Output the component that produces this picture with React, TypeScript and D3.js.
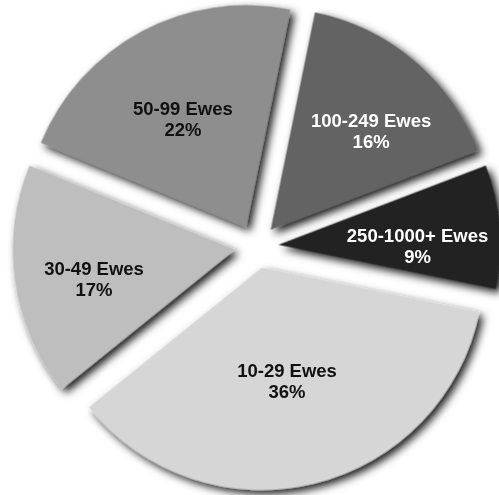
import React from "react";
import * as d3 from "d3";

const categories = ["10-29 Ewes", "30-49 Ewes", "50-99 Ewes", "100-249 Ewes", "250-1000+ Ewes"];
const values = [36, 17, 22, 16, 9];
const colors = ["#d6d6d6", "#bebebe", "#8e8e8e", "#636363", "#232323"];
const textColors = ["#111", "#111", "#111", "#fff", "#fff"];
// label placement (layout): distance from slice tip and angular shift in degrees
const labelRadius = [122.7, 145.3, 119.3, 136.6, 139.3];
const labelShift = [1.8, -6.1, -3.9, 7.0, 7.7];

const W = 499;
const H = 495;
const CX = 256.5;
const CY = 246.5;
const R = 222;
const EXPLODE = 22;
const START = (101.5 * Math.PI) / 180;
const LINE_GAP = 21;

export default function App() {
  const pie = d3
    .pie<number>()
    .sort(null)
    .value((d) => d)
    .startAngle(START)
    .endAngle(START + 2 * Math.PI);
  const arcs = pie(values);
  const arcGen = d3.arc<d3.PieArcDatum<number>>().innerRadius(0).outerRadius(R);

  return (
    <svg
      width={W}
      height={H}
      style={{ position: "absolute", left: 0, top: 0, background: "#fff" }}
    >
      <defs>
        <filter id="shadow" x="-20%" y="-20%" width="140%" height="140%">
          <feDropShadow dx="4" dy="4" stdDeviation="4" floodColor="#000" floodOpacity="0.9" />
        </filter>
      </defs>
      <g transform={`translate(${CX},${CY})`}>
        <g filter="url(#shadow)">
          {arcs.map((a, i) => {
            const mid = (a.startAngle + a.endAngle) / 2;
            const ox = EXPLODE * Math.sin(mid);
            const oy = -EXPLODE * Math.cos(mid);
            return (
              <path
                key={i}
                d={arcGen(a) || ""}
                transform={`translate(${ox},${oy})`}
                fill={colors[i]}
              />
            );
          })}
        </g>
        {arcs.map((a, i) => {
          const mid = (a.startAngle + a.endAngle) / 2;
          const ox = EXPLODE * Math.sin(mid);
          const oy = -EXPLODE * Math.cos(mid);
          const la = mid + (labelShift[i] * Math.PI) / 180;
          const lx = ox + labelRadius[i] * Math.sin(la);
          const ly = oy - labelRadius[i] * Math.cos(la);
          return (
            <text
              key={i}
              x={lx}
              y={ly}
              textAnchor="middle"
              fill={textColors[i]}
              style={{ fontFamily: "'Liberation Sans', Arial, Helvetica, sans-serif", fontWeight: 700, fontSize: 18.5 }}
            >
              <tspan x={lx} y={ly - LINE_GAP / 2}>{categories[i]}</tspan>
              <tspan x={lx} y={ly + LINE_GAP / 2}>{`${values[i]}%`}</tspan>
            </text>
          );
        })}
      </g>
    </svg>
  );
}
